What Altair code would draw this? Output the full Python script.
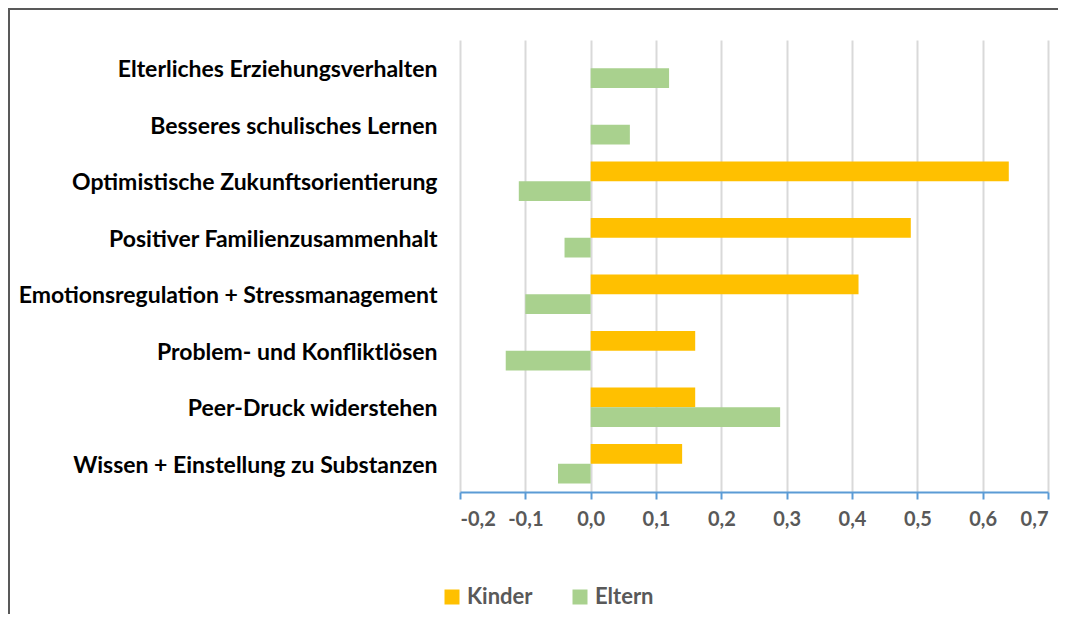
import altair as alt
import pandas as pd

categories = [
    "Elterliches Erziehungsverhalten",
    "Besseres schulisches Lernen",
    "Optimistische Zukunftsorientierung",
    "Positiver Familienzusammenhalt",
    "Emotionsregulation + Stressmanagement",
    "Problem- und Konfliktlösen",
    "Peer-Druck widerstehen ",
    "Wissen + Einstellung zu Substanzen",
]
kinder = [None, None, 0.64, 0.49, 0.41, 0.16, 0.16, 0.14]
eltern = [0.12, 0.06, -0.11, -0.04, -0.10, -0.13, 0.29, -0.05]
series = ["Kinder", "Eltern"]
colors = ["#FFC000", "#A9D18E"]
x_ticks = [-0.2, -0.1, 0.0, 0.1, 0.2, 0.3, 0.4, 0.5, 0.6, 0.7]

rows = []
for c, k, e in zip(categories, kinder, eltern):
    if k is not None:
        rows.append({"category": c, "series": "Kinder", "value": k})
    if e is not None:
        rows.append({"category": c, "series": "Eltern", "value": e})
df = pd.DataFrame(rows)

W, H = 588, 452
FONT = "Lato"

bars = alt.Chart(df).mark_bar().encode(
    x=alt.X(
        "value:Q",
        scale=alt.Scale(domain=[-0.2, 0.7], nice=False, zero=False),
        axis=alt.Axis(
            title=None,
            values=x_ticks,
            labelExpr="replace(replace(format(datum.value, '.1f'), '.', ','), '\u2212', '-')",
            grid=True,
            gridColor="#D9D9D9",
            gridWidth=2,
            domainColor="#5B9BD5",
            domainWidth=2,
            tickColor="#5B9BD5",
            tickWidth=2,
            tickSize=7,
            labelFont=FONT,
            labelFontSize=20,
            labelFontWeight="bold",
            labelColor="#595959",
            labelPadding=10,
        ),
    ),
    y=alt.Y(
        "category:N",
        sort=categories,
        scale=alt.Scale(paddingInner=0.3, paddingOuter=0.15),
        axis=alt.Axis(
            title=None,
            domain=False,
            ticks=False,
            labelFont=FONT,
            labelFontSize=23,
            labelFontWeight="bold",
            labelColor="#000000",
            labelPadding=23,
            labelOffset=2,
            labelLimit=500,
        ),
    ),
    yOffset=alt.YOffset("series:N", sort=series),
    color=alt.Color(
        "series:N",
        sort=series,
        scale=alt.Scale(domain=series, range=colors),
        legend=alt.Legend(
            title=None,
            orient="none",
            direction="horizontal",
            legendX=-19,
            legendY=546,
            symbolType="square",
            symbolSize=225,
            symbolStrokeWidth=0,
            labelFont=FONT,
            labelFontSize=22,
            labelFontWeight="bold",
            labelColor="#595959",
            columnPadding=36,
        ),
    ),
)

frame = alt.Chart(pd.DataFrame({"a": [0]})).mark_rect(
    fill="transparent", stroke="#595959", strokeWidth=2
).encode(
    x=alt.value(-451),
    x2=alt.value(604),
    y=alt.value(-31),
    y2=alt.value(H + 300),
)

chart = alt.layer(frame, bars).properties(
    width=W,
    height=H,
    autosize=alt.AutoSizeParams(type="none"),
    padding={"left": 452, "top": 32, "right": 10, "bottom": 122},
).configure_view(stroke=None)

chart.save("out.html", embed_options={"renderer": "svg", "actions": False})
